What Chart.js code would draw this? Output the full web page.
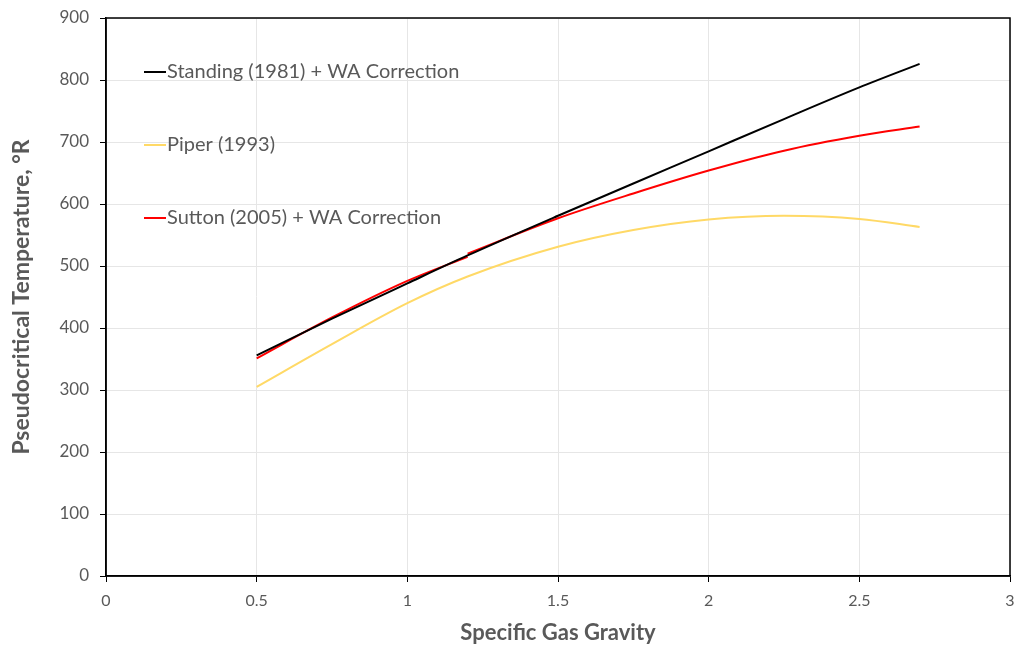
<!DOCTYPE html>
<html>
<head>
<meta charset="utf-8">
<script src="https://cdn.jsdelivr.net/npm/chart.js@4.4.0/dist/chart.umd.min.js"></script>
<style>
html, body { margin: 0; padding: 0; background: #fff; }
#Graph { width: 1018px; height: 646px; }
</style>
</head>
<body>
<div id="Graph"><canvas id="myChart" width="1018" height="646"></canvas></div>
<script>
// gas gravity where each correlation was sampled
gravity = [0.5, 0.75, 1.0, 1.2, 1.5, 1.75, 2.0, 2.25, 2.5, 2.7]
standing = [356, 415, 472, 517, 581, 633, 685, 737, 788, 826]
piper = [305, 374, 440, 483, 531, 558, 575, 581, 576, 563]

// Sutton jumps at gravity 1.2, so it goes in as two pieces
suttonLowX = [0.5, 0.75, 1.0, 1.2]
suttonLow = [351, 417, 476, 515]
suttonHighX = [1.2, 1.5, 1.75, 2.0, 2.25, 2.5, 2.7]
suttonHigh = [520, 577, 617, 654, 686, 710, 725]

labels = ['Standing (1981) + WA Correction', 'Piper (1993)', 'Sutton (2005) + WA Correction']
colors = ['#000000', '#FFD966', '#FF0000']

function pts(xs, ys){
	return xs.map(function(x, i){ return {x: x, y: ys[i]} });
}

function line(label, color, data, hidden){
	return {
		label: label,
		data: data,
		borderColor: color,
		backgroundColor: color,
		borderWidth: 2,
		pointRadius: 0,
		showLine: true,
		cubicInterpolationMode: 'monotone',
		hideInLegend: hidden || false
	};
}

var textGrey = '#595959';

// legend sits inside the plot, one entry per row with wide gaps
var legendInside = {
	id: 'legendInside',
	afterDraw: function(chart){
		var ctx = chart.ctx;
		var area = chart.chartArea;
		ctx.save();
		ctx.font = '20px Lato';
		ctx.textBaseline = 'middle';
		var row = 0;
		chart.data.datasets.forEach(function(ds){
			if (ds.hideInLegend) return;
			var y = area.top + 54 + row * 73;
			var x = area.left + 38;
			ctx.strokeStyle = ds.borderColor;
			ctx.lineWidth = 2;
			ctx.beginPath();
			ctx.moveTo(x, y);
			ctx.lineTo(x + 22, y);
			ctx.stroke();
			ctx.fillStyle = textGrey;
			ctx.fillText(ds.label, x + 23, y);
			row++;
		});
		// box round the plot
		ctx.strokeStyle = '#000';
		ctx.lineWidth = 1.5;
		ctx.strokeRect(area.left, area.top, area.right - area.left, area.bottom - area.top);
		ctx.restore();
	}
};

function load_chart(){
	var ctx = document.getElementById('myChart').getContext('2d');
	var myChart = new Chart(ctx, {
		type: 'scatter',
		data: {
			datasets: [
				line(labels[0], colors[0], pts(gravity, standing)),
				line(labels[1], colors[1], pts(gravity, piper)),
				line(labels[2], colors[2], pts(suttonLowX, suttonLow)),
				line(labels[2], colors[2], pts(suttonHighX, suttonHigh), true)
			]
		},
		options: {
			responsive: false,
			animation: false,
			layout: { padding: { left: 0, right: 8, top: 18, bottom: 0 } },
			plugins: {
				legend: { display: false },
				tooltip: { enabled: false }
			},
			scales: {
				x: {
					type: 'linear',
					min: 0,
					max: 3,
					afterFit: function(scale){
						scale.height = 70;
						scale.paddingLeft = 0;
						scale.paddingRight = 0;
					},
					ticks: {
						stepSize: 0.5,
						color: textGrey,
						font: { family: 'Lato', size: 16 },
						padding: 9,
						callback: function(v){ return String(v); }
					},
					grid: { color: '#E6E6E6', tickColor: '#000', tickLength: 6 },
					border: { color: '#000', width: 1.5 },
					title: {
						display: true,
						text: 'Specific Gas Gravity',
						color: textGrey,
						font: { family: 'Lato', size: 22, weight: 'bold' },
						padding: { top: 2, bottom: 0 }
					}
				},
				y: {
					min: 0,
					max: 900,
					afterFit: function(scale){
						scale.width = 106;
						scale.paddingTop = 0;
						scale.paddingBottom = 0;
					},
					ticks: { stepSize: 100, color: textGrey, font: { family: 'Lato', size: 17 }, padding: 11 },
					grid: { color: '#E6E6E6', tickColor: '#000', tickLength: 6 },
					border: { color: '#000', width: 1.5 },
					title: {
						display: true,
						text: 'Pseudocritical Temperature, °R',
						color: textGrey,
						font: { family: 'Lato', size: 23, weight: 'bold' },
						padding: { top: 8, bottom: 0 }
					}
				}
			}
		},
		plugins: [legendInside]
	});
}

load_chart()
</script>
</body>
</html>
